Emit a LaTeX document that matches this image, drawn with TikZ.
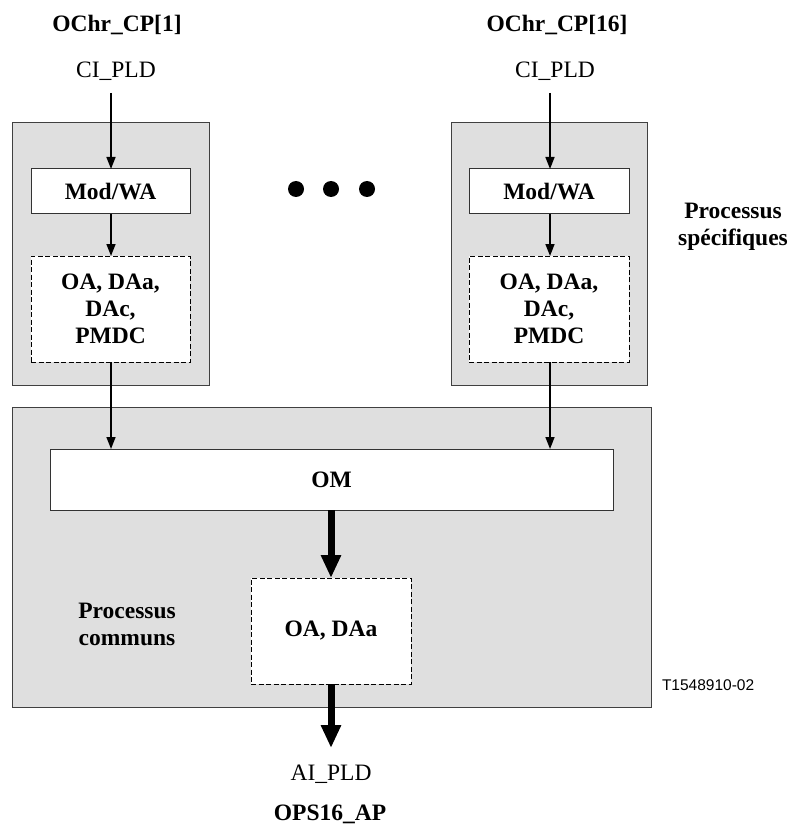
\documentclass[tikz,border=0pt]{standalone}
\usepackage{fontspec}
\setmainfont{Liberation Serif}
\newfontfamily\codefont{Liberation Sans}
\usetikzlibrary{arrows.meta}
\begin{document}
\begin{tikzpicture}[x=1pt,y=-1pt,
  every node/.style={inner sep=0pt,outer sep=0pt},
  txt/.style={font=\fontsize{23.5}{27}\selectfont},
  btxt/.style={font=\fontsize{23.5}{27}\selectfont\bfseries},
  graybox/.style={draw=black!75,line width=1pt,fill=gray!25},
  whitebox/.style={draw=black!80,line width=1pt,fill=white,btxt},
  dashbox/.style={draw=black,line width=1pt,dash pattern=on 5pt off 2.5pt,fill=white,btxt,align=center},
  thinarrow/.style={line width=1.6pt,-{Triangle[length=12pt,width=9pt]}},
  thickarrow/.style={line width=7pt,-{Triangle[length=23pt,width=19pt]}},
  dot/.style={circle,fill=black,minimum size=16pt}
]
\useasboundingbox (0,0) rectangle (792,826);

% gray containers
\node[graybox,minimum width=197pt,minimum height=262pt] (lgray) at (110.5,254) {};
\node[graybox,minimum width=196pt,minimum height=262pt] (rgray) at (549,254) {};
\node[graybox,minimum width=639pt,minimum height=300pt] (common) at (331.5,557) {};

% inner boxes
\node[whitebox,minimum width=159pt,minimum height=45pt] (lmod) at (110.5,191.5) {Mod/WA};
\node[whitebox,minimum width=160pt,minimum height=45pt] (rmod) at (549,191.5) {Mod/WA};
\node[dashbox,minimum width=159pt,minimum height=106pt] (lda) at (110.5,309) {OA, DAa,\\DAc,\\PMDC};
\node[dashbox,minimum width=160pt,minimum height=106pt] (rda) at (549,309) {OA, DAa,\\DAc,\\PMDC};
\node[whitebox,minimum width=563pt,minimum height=61pt] (om) at (331.5,479.5) {OM};
\node[dashbox,minimum width=160pt,minimum height=106pt] (oada) at (331,631) {OA, DAa};

% labels
\node[btxt,anchor=base] (tl) at (117,32) {OChr\_CP[1]};
\node[btxt,anchor=base] (tr) at (557,32) {OChr\_CP[16]};
\node[txt,anchor=base] (cil) at (116,78) {CI\_PLD};
\node[txt,anchor=base] (cir) at (555,78) {CI\_PLD};
\node[btxt,align=center] (spec) at (733,227) {Processus\\spécifiques};
\node[btxt,align=center] (comm) at (127,624) {Processus\\communs};
\node[txt,anchor=base] (ai) at (331,780) {AI\_PLD};
\node[btxt,anchor=base] (ops) at (330,820) {OPS16\_AP};
\node[font=\codefont\fontsize{15.5}{17}\selectfont,anchor=base west] (code) at (662,690) {T1548910-02};

% dots
\node[dot] (d1) at (296,189) {};
\node[dot] (d2) at (331,189) {};
\node[dot] (d3) at (367,189) {};

% connectors
\coordinate (lin) at (111,93);
\coordinate (rin) at (550,93);
\coordinate (aout) at (331,748);
\draw[thinarrow] (lin) -- (lin |- lmod.north);
\draw[thinarrow] (lin |- lmod.south) -- (lin |- lda.north);
\draw[thinarrow] (rin) -- (rin |- rmod.north);
\draw[thinarrow] (rin |- rmod.south) -- (rin |- rda.north);
\draw[thinarrow] (lin |- lda.south) -- (lin |- om.north);
\draw[thinarrow] (rin |- rda.south) -- (rin |- om.north);
\draw[thickarrow] (oada.north |- om.south) -- (oada.north);
\draw[thickarrow] (oada.south) -- (aout);
\end{tikzpicture}
\end{document}
